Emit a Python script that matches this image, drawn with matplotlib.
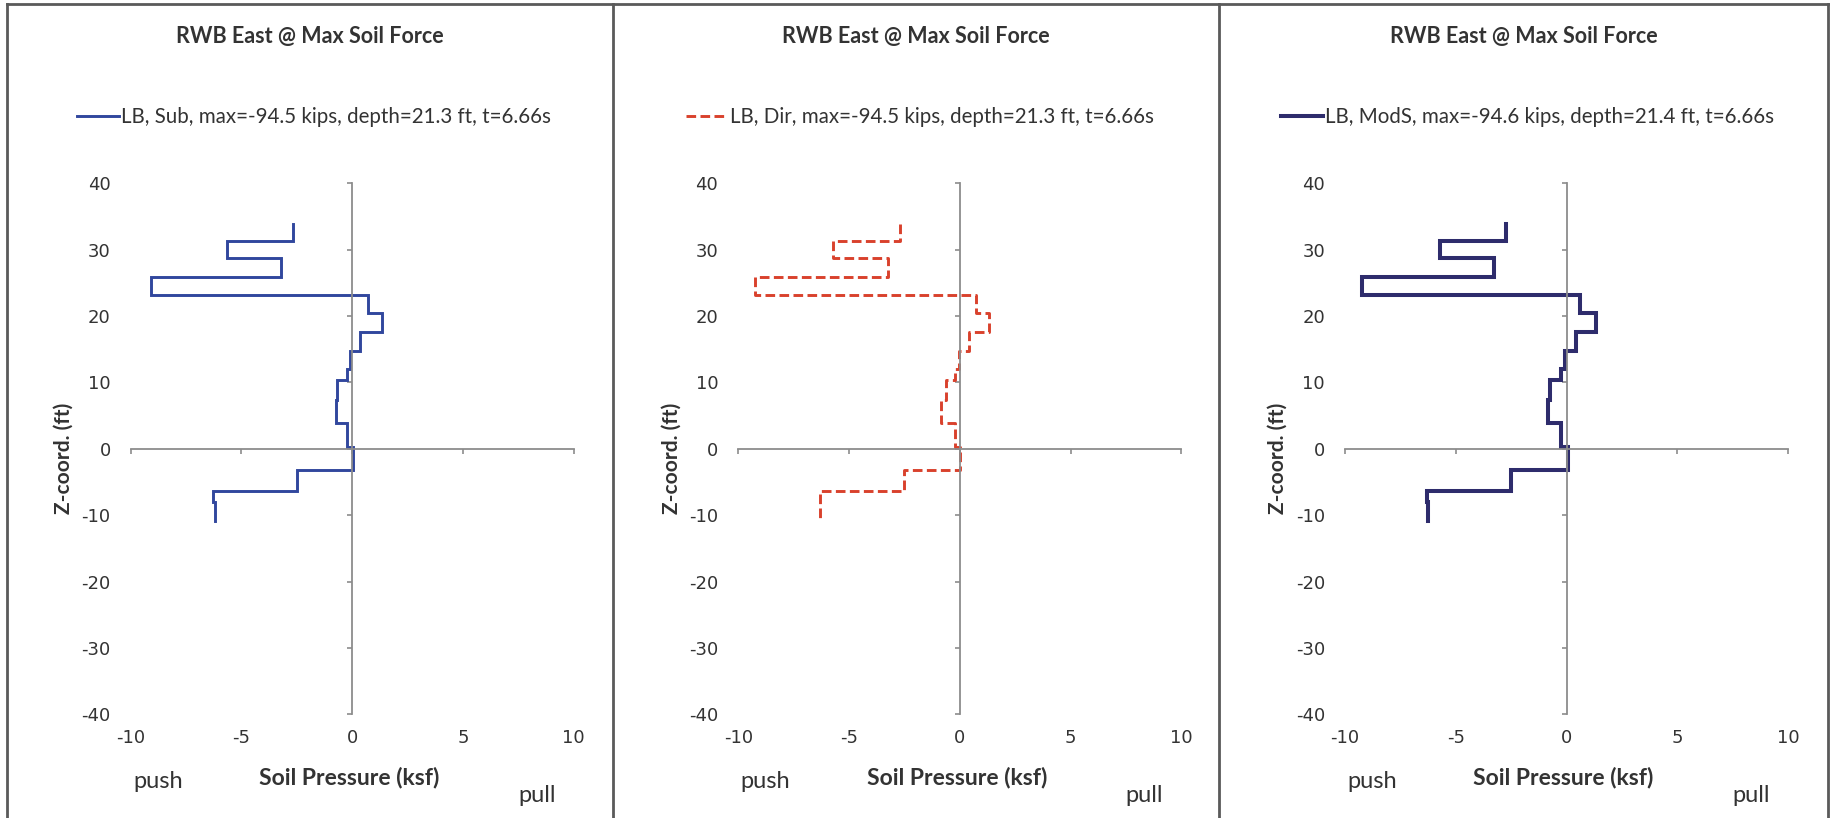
import numpy as np
import matplotlib
matplotlib.use("Agg")
import matplotlib.pyplot as plt
from matplotlib.lines import Line2D

W, H, DPI = 1830, 818, 100

title_text = "RWB East @ Max Soil Force"
xlabel_text = "Soil Pressure (ksf)"
ylabel_text = "Z-coord. (ft)"
legend_labels = [
    "LB, Sub, max=-94.5 kips, depth=21.3 ft, t=6.66s",
    "LB, Dir, max=-94.5 kips, depth=21.3 ft, t=6.66s",
    "LB, ModS, max=-94.6 kips, depth=21.4 ft, t=6.66s",
]
x_ticks = [-10, -5, 0, 5, 10]
y_ticks = [-40, -30, -20, -10, 0, 10, 20, 30, 40]

# Layer boundaries along the wall (ft) and soil pressure in each layer (ksf)
z_sub = [33.9, 31.3, 28.7, 25.9, 23.2, 20.4, 17.6, 14.8, 12.0, 10.4, 7.3,
         3.9, 0.3, -3.2, -6.3, -8.0, -10.9]
p_sub = [-2.69, -5.66, -3.22, -9.10, 0.72, 1.36, 0.34, -0.10, -0.25, -0.67,
         -0.73, -0.22, 0.04, -2.49, -6.27, -6.18]

z_dir = [33.9, 31.3, 28.7, 25.9, 23.2, 20.4, 17.6, 14.8, 12.0, 10.4, 7.3,
         3.9, 0.3, -3.2, -6.3, -10.8]
p_dir = [-2.70, -5.73, -3.23, -9.26, 0.71, 1.33, 0.41, -0.05, -0.20, -0.62,
         -0.85, -0.20, 0.03, -2.52, -6.30]

z_mods = [33.9, 31.3, 28.7, 25.9, 23.2, 20.4, 17.6, 14.8, 12.0, 10.4, 7.3,
          3.9, 0.3, -3.2, -6.3, -8.0, -10.9]
p_mods = [-2.73, -5.71, -3.29, -9.24, 0.61, 1.33, 0.41, -0.08, -0.27, -0.76,
          -0.83, -0.23, 0.05, -2.50, -6.32, -6.26]

series = [
    (z_sub, p_sub, dict(color="#31479d", lw=2.1, ls="-")),
    (z_dir, p_dir, dict(color="#d9412c", lw=2.1, ls=(0, (3.3, 1.5)))),
    (z_mods, p_mods, dict(color="#2e2c6c", lw=2.9, ls="-")),
]


def px2fig(x, y):
    return x / W, 1 - y / H


fig = plt.figure(figsize=(W / DPI, H / DPI), dpi=DPI, facecolor="white")

axes_left_px = [130.7, 738.3, 1345.0]
panel_edges_px = [7, 613, 1219, 1828]
ax_w_px, ax_top_px, ax_bot_px = 443.0, 183.3, 714.3
axis_grey = "#8c8c8c"
text_dark = "#333333"
tick_len_px = 5.0
pt_per_px = 72.0 / DPI

for i, (z, p, style) in enumerate(series):
    lx = axes_left_px[i]
    ax = fig.add_axes([lx / W, 1 - ax_bot_px / H, ax_w_px / W,
                       (ax_bot_px - ax_top_px) / H])
    ax.set_facecolor("none")
    ax.set_xlim(x_ticks[0], x_ticks[-1])
    ax.set_ylim(y_ticks[0], y_ticks[-1])

    for s in ("top", "right"):
        ax.spines[s].set_visible(False)
    ax.spines["left"].set_position(("data", 0))
    ax.spines["bottom"].set_position(("data", 0))
    for s in ("left", "bottom"):
        ax.spines[s].set_color(axis_grey)
        ax.spines[s].set_linewidth(1.3)

    ax.set_xticks(x_ticks)
    ax.set_yticks(y_ticks)
    ax.set_xticklabels([str(t) for t in x_ticks])
    ax.set_yticklabels([str(t) for t in y_ticks])

    # tick labels sit at the low edge of the plot, away from the crossing axes
    ypad_px = ax_w_px / 2 + 20 - tick_len_px
    xpad_px = (ax_bot_px - ax_top_px) / 2 + 15 - tick_len_px
    ax.tick_params(axis="y", direction="out", length=tick_len_px * pt_per_px,
                   width=1.2, color=axis_grey, labelsize=13,
                   labelcolor=text_dark, pad=ypad_px * pt_per_px)
    ax.tick_params(axis="x", direction="out", length=tick_len_px * pt_per_px,
                   width=1.2, color=axis_grey, labelsize=13,
                   labelcolor=text_dark, pad=xpad_px * pt_per_px)

    zz = np.asarray(z, dtype=float)
    pp = np.asarray(p, dtype=float)
    xs = np.repeat(pp, 2)
    ys = np.column_stack([zz[:-1], zz[1:]]).ravel()
    line, = ax.plot(xs, ys, solid_joinstyle="miter", dash_capstyle="butt",
                    label=legend_labels[i], **style)

    cx = (panel_edges_px[i] + panel_edges_px[i + 1]) / 2
    fig.text(*px2fig(cx, 36), title_text, ha="center", va="center",
             fontsize=15.5, fontweight="bold", family="Lato", color=text_dark)

    leg = fig.legend(handles=[line], labels=[legend_labels[i]],
                     loc="center", bbox_to_anchor=px2fig(cx + 4, 117),
                     frameon=False, handlelength=2.0, handletextpad=0.1,
                     prop=dict(family="Lato", size=14.8))
    for t in leg.get_texts():
        t.set_color(text_dark)

    x0 = lx + ax_w_px / 2
    fig.text(*px2fig(x0 - 3, 778), xlabel_text, ha="center", va="center",
             fontsize=16.5, fontweight="bold", family="Lato", color=text_dark)
    fig.text(*px2fig(lx - 67, 458), ylabel_text, ha="center", va="center",
             rotation=90, fontsize=15, fontweight="bold", family="Lato",
             color=text_dark)
    fig.text(*px2fig(lx + 27, 782), "push", ha="center", va="center",
             fontsize=17, family="Lato", color=text_dark)
    fig.text(*px2fig(lx + 406, 795), "pull", ha="center", va="center",
             fontsize=17, family="Lato", color=text_dark)

# panel frames
border = "#5a5a5a"
fig.add_artist(Line2D([px2fig(7, 0)[0], px2fig(1828, 0)[0]],
                      [px2fig(0, 4)[1]] * 2, color=border, lw=2.0))
for ex in panel_edges_px:
    fig.add_artist(Line2D([ex / W] * 2, [px2fig(0, 4)[1], 0],
                          color=border, lw=2.0))

fig.savefig("out.png", dpi=DPI, facecolor="white")
